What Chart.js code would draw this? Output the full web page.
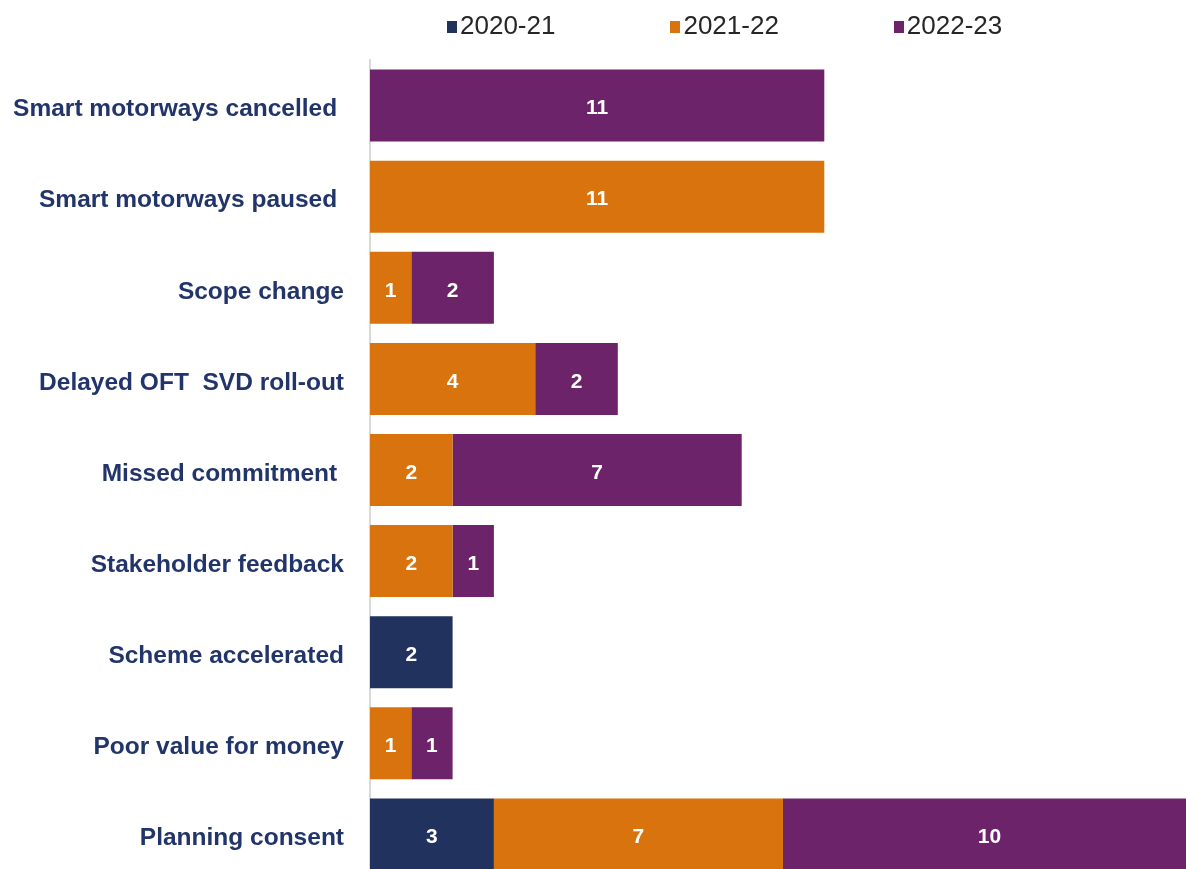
<!DOCTYPE html>
<html>
<head>
<meta charset="utf-8">
<script src="https://cdn.jsdelivr.net/npm/chart.js@4/dist/chart.umd.min.js"></script>
<style>
  html, body { margin: 0; padding: 0; background: #fff; overflow: hidden; }
  #wrap { position: relative; width: 1186px; height: 869px; overflow: hidden; }
  #legend {
    position: absolute; top: 10px; left: 447px;
    display: flex; gap: 115px;
    font-family: "Liberation Sans", Arial, sans-serif; font-size: 26px; color: #262626;
  }
  #legend span.item { display: flex; align-items: center; white-space: nowrap; }
  #legend span.box { display: inline-block; width: 10px; height: 12px; margin-right: 3px; margin-top: 2px; }
</style>
</head>
<body>
<div id="wrap">
  <canvas id="chart" width="1196" height="880"></canvas>
  <div id="legend"></div>
</div>
<script>
// ----- data -----
const categories = [
    'Smart motorways cancelled ',
    'Smart motorways paused ',
    'Scope change',
    'Delayed OFT  SVD roll-out',
    'Missed commitment ',
    'Stakeholder feedback',
    'Scheme accelerated',
    'Poor value for money',
    'Planning consent'
];
const seriesNames = ['2020-21', '2021-22', '2022-23'];
const values_2020 = [null, null, null, null, null, null, 2, null, 3];
const values_2021 = [null, 11, 1, 4, 2, 2, null, 1, 7];
const values_2022 = [11, null, 2, 2, 7, 1, null, 1, 10];
const colours = ['#22325F', '#D9730D', '#6D2369'];

// white numbers in the middle of each segment
const valueLabels = {
    id: 'valueLabels',
    afterDatasetsDraw(chart) {
        const ctx = chart.ctx;
        ctx.save();
        ctx.fillStyle = '#ffffff';
        ctx.font = 'bold 21px "Liberation Sans", Arial, sans-serif';
        ctx.textAlign = 'center';
        ctx.textBaseline = 'middle';
        chart.data.datasets.forEach((ds, i) => {
            chart.getDatasetMeta(i).data.forEach((bar, j) => {
                const v = ds.data[j];
                if (!v) return;
                const p = bar.getProps(['x', 'base', 'y'], true);
                ctx.fillText(String(v), (p.x + p.base) / 2, p.y + 3);
            });
        });
        ctx.restore();
    }
};

const data_chart = {
    labels: categories,
    datasets: [
        { label: seriesNames[0], data: values_2020, backgroundColor: colours[0] },
        { label: seriesNames[1], data: values_2021, backgroundColor: colours[1] },
        { label: seriesNames[2], data: values_2022, backgroundColor: colours[2] }
    ]
};

const config_chart = {
    type: 'bar',
    data: data_chart,
    options: {
        indexAxis: 'y',
        responsive: false,
        animation: false,
        devicePixelRatio: 1,
        categoryPercentage: 1,
        barPercentage: 0.79,
        layout: { padding: { top: 60, right: 0, bottom: 0, left: 0 } },
        plugins: {
            legend: { display: false },
            tooltip: { enabled: false }
        },
        scales: {
            x: {
                stacked: true,
                display: false,
                min: 0,
                max: 20
            },
            y: {
                stacked: true,
                grid: { display: false, drawTicks: false },
                border: { display: true, color: '#d9d9d9', width: 2 },
                ticks: {
                    color: '#22356B',
                    padding: 26,
                    labelOffset: 4,
                    font: { family: '"Liberation Sans", Arial, sans-serif', size: 24.5, weight: 'bold' }
                },
                afterFit(scale) {
                    scale.width = 370;
                    scale.paddingTop = 0;
                    scale.paddingBottom = 0;
                }
            }
        }
    },
    plugins: [valueLabels]
};

var chart = new Chart(document.getElementById('chart'), config_chart);

// legend as html
const legend = document.getElementById('legend');
seriesNames.forEach((name, i) => {
    const item = document.createElement('span');
    item.className = 'item';
    const box = document.createElement('span');
    box.className = 'box';
    box.style.background = colours[i];
    item.appendChild(box);
    item.appendChild(document.createTextNode(name));
    legend.appendChild(item);
});
</script>
</body>
</html>
